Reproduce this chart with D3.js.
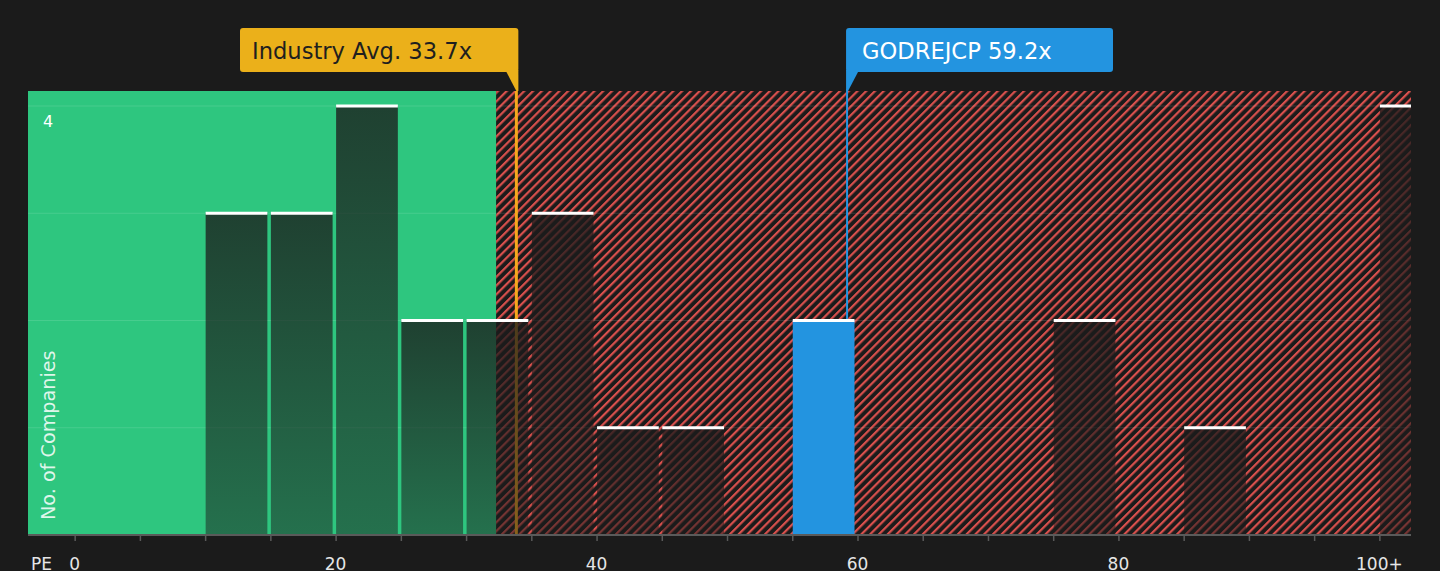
<!DOCTYPE html>
<html>
<head>
<meta charset="utf-8">
<script src="https://cdn.jsdelivr.net/npm/d3@7"></script>
<style>
  html, body { margin: 0; padding: 0; background: #1b1b1b; }
  svg { display: block; font-family: "DejaVu Sans", sans-serif; }
</style>
</head>
<body>
<svg id="chart" width="1440" height="571"></svg>
<script>
// PE histogram data, bins of width 5 (last bin is 100+)
const binStarts = [0, 5, 10, 15, 20, 25, 30, 35, 40, 45, 50, 55, 60, 65, 70, 75, 80, 85, 90, 95, 100];
const binCounts = [0, 0, 3, 3, 4, 2, 2, 3, 1, 1, 0, 2, 0, 0, 0, 2, 0, 1, 0, 0, 4];
const highlightBin = 55;
const industryAvg = 33.7;
const companyPE = 59.2;
const companyName = "GODREJCP";
const fairLimit = 32.3; // green zone ends here
const xTickValues = [0, 20, 40, 60, 80, 100];
const xTickLabels = ["0", "20", "40", "60", "80", "100+"];
const yGridValues = [1, 2, 3, 4];

const binWidth = 5;
const svg = d3.select("#chart");
const plot = { left: 28, right: 1411, top: 91, bottom: 535 };

const x = d3.scaleLinear().domain([-3.5, 102.5]).range([plot.left + 1, plot.right + 1]);
const y = d3.scaleLinear().domain([0, 4]).range([plot.bottom, 106]);

const defs = svg.append("defs");
const hatch = defs.append("pattern")
  .attr("id", "hatch")
  .attr("patternUnits", "userSpaceOnUse")
  .attr("width", 6.2)
  .attr("height", 6.2)
  .attr("patternTransform", "rotate(45)");
hatch.append("line")
  .attr("x1", 1.1).attr("y1", 0)
  .attr("x2", 1.1).attr("y2", 6.2)
  .attr("stroke", "#d9504d")
  .attr("stroke-width", 2.2);

const barGrad = defs.append("linearGradient")
  .attr("id", "barGrad")
  .attr("x1", 0).attr("y1", 0).attr("x2", 0).attr("y2", 1);
barGrad.append("stop").attr("offset", "0").attr("stop-color", "#1b1b1b").attr("stop-opacity", 0.78);
barGrad.append("stop").attr("offset", "1").attr("stop-color", "#1b1b1b").attr("stop-opacity", 0.5);

defs.append("clipPath").attr("id", "plotClip")
  .append("rect")
  .attr("x", plot.left).attr("y", 0)
  .attr("width", plot.right - plot.left).attr("height", plot.bottom);

// zones
svg.append("rect")
  .attr("x", plot.left).attr("y", plot.top)
  .attr("width", x(fairLimit) - plot.left)
  .attr("height", plot.bottom - plot.top)
  .attr("fill", "#2ec67f");
svg.append("rect")
  .attr("x", x(fairLimit)).attr("y", plot.top)
  .attr("width", plot.right - x(fairLimit))
  .attr("height", plot.bottom - plot.top)
  .attr("fill", "url(#hatch)");

// gridlines
svg.append("g").selectAll("line")
  .data(yGridValues)
  .join("line")
  .attr("x1", plot.left).attr("x2", plot.right)
  .attr("y1", (d) => y(d)).attr("y2", (d) => y(d))
  .attr("stroke", "#ffffff")
  .attr("stroke-opacity", 0.12)
  .attr("stroke-width", 1);

// industry average line (under the bars)
const avgX = x(industryAvg) + 2;
svg.append("line")
  .attr("x1", avgX).attr("x2", avgX)
  .attr("y1", plot.top).attr("y2", plot.bottom)
  .attr("stroke", "#f5a81c")
  .attr("stroke-width", 3);

const bins = binStarts.map((b, i) => ({ start: b, count: binCounts[i] }))
  .filter((d) => d.count > 0);

const barG = svg.append("g").attr("clip-path", "url(#plotClip)");
barG.selectAll("rect.bar")
  .data(bins)
  .join("rect")
  .attr("class", "bar")
  .attr("x", (d) => x(d.start) + 0.5)
  .attr("y", (d) => y(d.count))
  .attr("width", (d) => x(d.start + binWidth) - x(d.start) - 3.5)
  .attr("height", (d) => y(0) - y(d.count))
  .attr("fill", (d) => d.start === highlightBin ? "#2394e0" : "url(#barGrad)");
barG.selectAll("rect.top")
  .data(bins)
  .join("rect")
  .attr("class", "top")
  .attr("x", (d) => x(d.start) + 0.5)
  .attr("y", (d) => y(d.count) - 1.5)
  .attr("width", (d) => x(d.start + binWidth) - x(d.start) - 3.5)
  .attr("height", 3)
  .attr("fill", "#ffffff");

// company line
const hiCount = binCounts[binStarts.indexOf(highlightBin)];
const coX = x(companyPE);
svg.append("line")
  .attr("x1", coX).attr("x2", coX)
  .attr("y1", plot.top - 2).attr("y2", y(hiCount) - 1.5)
  .attr("stroke", "#2394e0")
  .attr("stroke-width", 2);

// callouts
svg.append("rect")
  .attr("x", 240).attr("y", 28)
  .attr("width", avgX + 2 - 240).attr("height", 44)
  .attr("rx", 3)
  .attr("fill", "#ebb01a");
svg.append("path")
  .attr("d", `M${avgX - 11},70 L${avgX + 2},70 L${avgX + 2},${plot.top} L${avgX},${plot.top} Z`)
  .attr("fill", "#ebb01a");
svg.append("text")
  .attr("x", 252).attr("y", 58.5)
  .attr("font-size", 22.6)
  .attr("fill", "#1f1f1f")
  .text(`Industry Avg. ${industryAvg}x`);

svg.append("rect")
  .attr("x", coX - 1).attr("y", 28)
  .attr("width", 1113 - coX + 1).attr("height", 44)
  .attr("rx", 3)
  .attr("fill", "#2394e0");
svg.append("path")
  .attr("d", `M${coX - 1},70 L${coX + 12},70 L${coX + 1},${plot.top} L${coX - 1},${plot.top} Z`)
  .attr("fill", "#2394e0");
svg.append("text")
  .attr("x", coX + 15).attr("y", 58.5)
  .attr("font-size", 22.6)
  .attr("fill", "#ffffff")
  .text(`${companyName} ${companyPE}x`);

// axis
const axis = d3.axisBottom(x)
  .tickValues(d3.range(0, 101, 5))
  .tickSize(6)
  .tickFormat("");
const axisG = svg.append("g")
  .attr("transform", `translate(0,${plot.bottom})`)
  .call(axis);
axisG.select(".domain").remove();
axisG.selectAll(".tick line").attr("stroke", "#5a5a5a").attr("stroke-width", 1.5);
svg.append("line")
  .attr("x1", plot.left).attr("x2", plot.right)
  .attr("y1", plot.bottom).attr("y2", plot.bottom)
  .attr("stroke", "#5a5a5a")
  .attr("stroke-width", 2);

svg.append("g").selectAll("text")
  .data(xTickValues)
  .join("text")
  .attr("x", (d) => x(d))
  .attr("y", 570)
  .attr("text-anchor", "middle")
  .attr("font-size", 17)
  .attr("fill", "#e6e6e6")
  .text((d, i) => xTickLabels[i]);
svg.append("text")
  .attr("x", 31).attr("y", 570)
  .attr("font-size", 17)
  .attr("fill", "#e6e6e6")
  .text("PE");

// y labels
svg.append("text")
  .attr("x", 43).attr("y", 127)
  .attr("font-size", 16)
  .attr("fill", "#ffffff")
  .text("4");
svg.append("text")
  .attr("transform", "translate(55,520) rotate(-90)")
  .attr("font-size", 19.2)
  .attr("fill", "#ffffff")
  .attr("fill-opacity", 0.85)
  .text("No. of Companies");
</script>
</body>
</html>
